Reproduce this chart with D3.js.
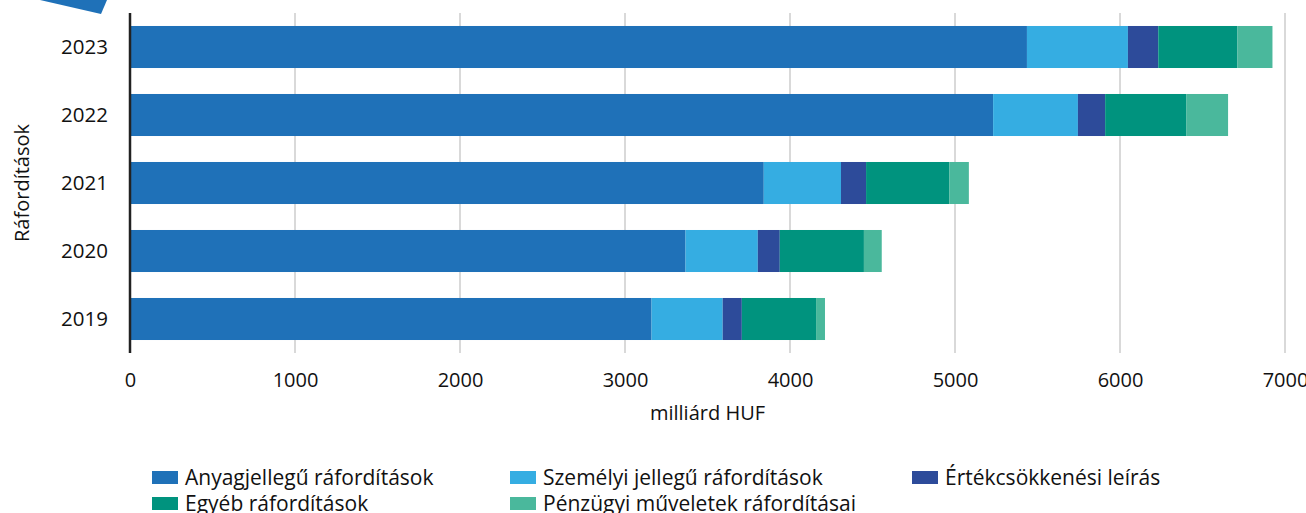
<!DOCTYPE html>
<html>
<head>
<meta charset="utf-8">
<script src="https://cdn.jsdelivr.net/npm/d3@7"></script>
<style>
  body { margin: 0; background: #fff; }
  svg { display: block; font-family: "Open Sans", sans-serif; }
</style>
</head>
<body>
<svg id="chart" width="1306" height="513"></svg>
<script>
// years top to bottom
const years = ['2023', '2022', '2021', '2020', '2019'];
const seriesNames = [
  'Anyagjellegű ráfordítások',
  'Személyi jellegű ráfordítások',
  'Értékcsökkenési leírás',
  'Egyéb ráfordítások',
  'Pénzügyi műveletek ráfordításai'
];
const seriesColors = ['#1f71b8', '#35ade2', '#2d4b9a', '#00937e', '#4ab89c'];
// milliárd HUF, per year in the order of `years`
const anyag = [5436, 5231, 3841, 3367, 3161];
const szemelyi = [612, 514, 468, 438, 431];
const ertekcs = [184, 165, 152, 133, 116];
const egyeb = [480, 491, 504, 510, 450];
const penzugyi = [212, 254, 119, 108, 54];
const xTicks = [0, 1000, 2000, 3000, 4000, 5000, 6000, 7000];

const allSeries = [anyag, szemelyi, ertekcs, egyeb, penzugyi];
const rows = years.map((y, i) => {
  const row = { year: y };
  seriesNames.forEach((n, k) => { row[n] = allSeries[k][i]; });
  return row;
});

const svg = d3.select('#chart');
const plotTop = 13, plotBottom = 353, plotLeft = 130, plotRight = 1285;

const x = d3.scaleLinear().domain([0, 7000]).range([plotLeft, plotRight]);
const y = d3.scaleBand().domain(years).range([plotTop, plotBottom])
  .paddingInner(0.382).paddingOuter(0.191);

// corner decoration
svg.append('polygon')
  .attr('points', '40,0 107,0 101,14')
  .attr('fill', '#1f71b8');

// gridlines
svg.append('g').selectAll('line')
  .data(xTicks.filter(d => d > 0))
  .join('line')
  .attr('x1', d => x(d)).attr('x2', d => x(d))
  .attr('y1', plotTop).attr('y2', plotBottom)
  .attr('stroke', '#d9d9d9').attr('stroke-width', 2);

const stack = d3.stack().keys(seriesNames)(rows);

svg.append('g').selectAll('g')
  .data(stack)
  .join('g')
  .attr('fill', (d, i) => seriesColors[i])
  .selectAll('rect')
  .data(d => d)
  .join('rect')
  .attr('x', d => x(d[0]))
  .attr('width', d => x(d[1]) - x(d[0]))
  .attr('y', d => y(d.data.year))
  .attr('height', y.bandwidth());

// y axis line
svg.append('line')
  .attr('x1', plotLeft).attr('x2', plotLeft)
  .attr('y1', plotTop).attr('y2', plotBottom)
  .attr('stroke', '#222').attr('stroke-width', 2.5);

// x axis
const xAxis = svg.append('g')
  .attr('transform', 'translate(0,' + plotBottom + ')')
  .call(d3.axisBottom(x).tickValues(xTicks).tickFormat(d3.format('d'))
    .tickSize(0).tickPadding(20));
xAxis.select('.domain').remove();
xAxis.selectAll('text')
  .attr('font-size', 20).attr('fill', '#111')
  .attr('font-family', '"Open Sans", sans-serif');

// y axis
const yAxis = svg.append('g')
  .attr('transform', 'translate(' + plotLeft + ',0)')
  .call(d3.axisLeft(y).tickSize(0).tickPadding(22));
yAxis.select('.domain').remove();
yAxis.selectAll('text')
  .attr('font-size', 20.5).attr('fill', '#111')
  .attr('font-family', '"Open Sans", sans-serif');

svg.append('text')
  .attr('x', (plotLeft + plotRight) / 2).attr('y', 420)
  .attr('text-anchor', 'middle')
  .attr('font-size', 20).attr('fill', '#111')
  .text('milliárd HUF');

svg.append('text')
  .attr('transform', 'translate(29,' + ((plotTop + plotBottom) / 2) + ') rotate(-90)')
  .attr('text-anchor', 'middle')
  .attr('font-size', 20).attr('fill', '#111')
  .text('Ráfordítások');

// legend
const legendPos = [[152, 471], [510, 471], [912, 471], [152, 497], [510, 497]];
const legend = svg.append('g').selectAll('g')
  .data(seriesNames)
  .join('g')
  .attr('transform', (d, i) => 'translate(' + legendPos[i][0] + ',' + legendPos[i][1] + ')');
legend.append('rect')
  .attr('width', 26).attr('height', 13)
  .attr('fill', (d, i) => seriesColors[i]);
legend.append('text')
  .attr('x', 33).attr('y', 6.5).attr('dy', '0.35em')
  .attr('font-size', 21).attr('fill', '#111')
  .text(d => d);
</script>
</body>
</html>
